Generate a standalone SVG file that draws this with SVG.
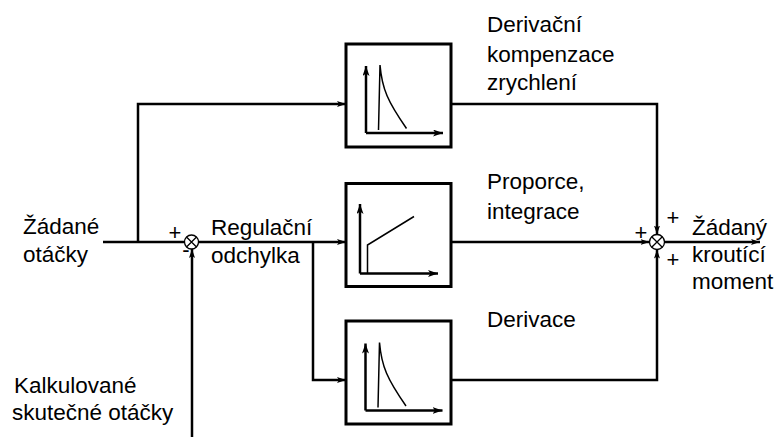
<svg xmlns="http://www.w3.org/2000/svg" width="780" height="441" viewBox="0 0 780 441">
<style>
.t{font-family:"Liberation Sans",Arial,Helvetica,sans-serif;font-size:22.5px;fill:#000}
.s{font-family:"Liberation Sans",Arial,Helvetica,sans-serif;font-size:22px;fill:#000;text-anchor:middle}
.box{fill:#fff;stroke:#000;stroke-width:3}
.ln{fill:none;stroke:#000;stroke-width:2.5}
.ax{fill:none;stroke:#000;stroke-width:2.5}
.cv{fill:none;stroke:#000;stroke-width:1.5}
.sum{fill:#fff;stroke:#000;stroke-width:1.3}
</style>
<defs>
<marker id="a" viewBox="0 0 10 7" refX="10" refY="3.5" markerWidth="10" markerHeight="7" markerUnits="userSpaceOnUse" orient="auto">
<path d="M0,0 L10,3.5 L0,7 L2.5,3.5 z" fill="#000"/>
</marker>
<marker id="s" viewBox="0 0 9 6" refX="9" refY="3" markerWidth="9" markerHeight="6" markerUnits="userSpaceOnUse" orient="auto">
<path d="M0,0 L9,3 L0,6 L2,3 z" fill="#000"/>
</marker>
<g id="spike">
<path class="ax" d="M20,89 V22" marker-end="url(#a)"/>
<path class="ax" d="M20,89 H97" marker-end="url(#a)"/>
<path class="cv" d="M32.5,86 L34,21 C36,45 42,58 60.5,84.5"/>
</g>
</defs>

<g id="connectors">
<path class="ln" d="M103,242 H184"/>
<path class="ln" d="M138,242 V104 H346" marker-end="url(#s)"/>
<path class="ln" d="M198,242 H346" marker-end="url(#s)"/>
<path class="ln" d="M313,242 V380 H346" marker-end="url(#s)"/>
<path class="ln" d="M192,437 V249" marker-end="url(#s)"/>
<path class="ln" d="M451,104 H657 V234.5" marker-end="url(#s)"/>
<path class="ln" d="M451,242 H649.5" marker-end="url(#s)"/>
<path class="ln" d="M451,380 H657 V249.5" marker-end="url(#s)"/>
<path class="ln" d="M664.5,242 H760" marker-end="url(#s)"/>
</g>

<g id="box1">
<rect class="box" x="346" y="44" width="105" height="103"/>
<use href="#spike" x="346" y="44"/>
</g>
<g id="box2">
<rect class="box" x="346" y="183.5" width="105" height="103"/>
<path class="ax" d="M360,273.5 V204" marker-end="url(#a)"/>
<path class="ax" d="M360,273.5 H438" marker-end="url(#a)"/>
<path class="cv" d="M367.5,273.5 V245 L414,216.5"/>
</g>
<g id="box3">
<rect class="box" x="346" y="321" width="105" height="103"/>
<use href="#spike" x="345.5" y="321.5"/>
</g>

<g id="sum1">
<circle class="sum" cx="191.5" cy="242" r="7"/>
<path class="sum" d="M186.5,237 L196.5,247 M196.5,237 L186.5,247"/>
<text class="s" x="175" y="239.5">+</text>
<text class="s" x="186" y="257">-</text>
</g>
<g id="sum2">
<circle class="sum" cx="657" cy="242" r="7.5"/>
<path class="sum" d="M651.7,236.7 L662.3,247.3 M662.3,236.7 L651.7,247.3"/>
<text class="s" x="673" y="224.5">+</text>
<text class="s" x="641" y="239.5">+</text>
<text class="s" x="673" y="266.5">+</text>
</g>

<g id="labels">
<text class="t" x="23" y="234">Žádané</text>
<text class="t" x="23" y="262">otáčky</text>
<text class="t" x="211" y="235">Regulační</text>
<text class="t" x="211" y="263">odchylka</text>
<text class="t" x="487" y="32">Derivační</text>
<text class="t" x="487" y="62">kompenzace</text>
<text class="t" x="487" y="89.5">zrychlení</text>
<text class="t" x="487" y="188.5">Proporce,</text>
<text class="t" x="487" y="218.5">integrace</text>
<text class="t" x="487" y="326.5">Derivace</text>
<text class="t" x="692" y="235">Žádaný</text>
<text class="t" x="692" y="262">kroutící</text>
<text class="t" x="692" y="288.5">moment</text>
<text class="t" x="14" y="393">Kalkulované</text>
<text class="t" x="12" y="420">skutečné otáčky</text>
</g>
</svg>
